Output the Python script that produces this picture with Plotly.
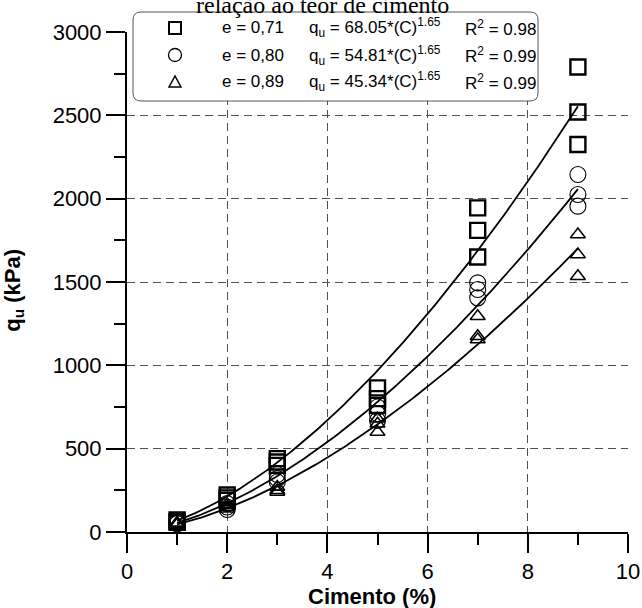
import numpy as np
import plotly.graph_objects as go

# ---------------- data ----------------
cement = [1, 2, 3, 5, 7, 9]  # Cimento (%)

qu_e071 = [[72, 62, 58], [222, 205, 190], [440, 420, 400],
           [865, 800, 760], [1945, 1810, 1650], [2790, 2520, 2325]]
qu_e080 = [[60, 55, 50], [170, 150, 135], [345, 320, 300],
           [750, 710, 670], [1495, 1455, 1405], [2145, 2025, 1955]]
qu_e089 = [[55, 50, 45], [165, 150, 140], [270, 250, 240],
           [680, 650, 600], [1295, 1175, 1155], [1785, 1665, 1535]]

void_ratio = ["0,71", "0,80", "0,89"]
fit_coef = [68.05, 54.81, 45.34]
fit_exp = 1.65
fit_r2 = ["0.98", "0.99", "0.99"]
fit_range = [1, 9]

x_ticks = [0, 2, 4, 6, 8, 10]
y_ticks = [0, 500, 1000, 1500, 2000, 2500, 3000]

# ---------------- figure ----------------
FONT = "Liberation Sans, Arial, sans-serif"
fig = go.Figure()

series = [qu_e071, qu_e080, qu_e089]
symbols = ["square-open", "circle-open", "triangle-up-open"]
msizes = [15, 16, 13]
mlw = [2.4, 1.1, 1.5]

for q, sym, ms, lw in zip(series, symbols, msizes, mlw):
    xs = [c for c, vals in zip(cement, q) for _ in vals]
    ys = [v for vals in q for v in vals]
    fig.add_trace(go.Scatter(
        x=xs, y=ys, mode="markers",
        marker=dict(symbol=sym, size=ms, color="black", line=dict(color="black", width=lw)),
        showlegend=False, cliponaxis=False))

cc = np.linspace(fit_range[0], fit_range[1], 200)
for a in fit_coef:
    fig.add_trace(go.Scatter(x=cc, y=a * cc ** fit_exp, mode="lines",
                             line=dict(color="black", width=1.8), showlegend=False))

fig.update_layout(
    width=642, height=608,
    margin=dict(l=127, r=14, t=32, b=76, autoexpand=False),
    plot_bgcolor="white", paper_bgcolor="white",
    font=dict(family=FONT, color="black"),
    showlegend=False,
)

common = dict(showline=True, linecolor="black", linewidth=2,
              ticks="outside", tickwidth=2, ticklen=19, tickcolor="black",
              tickfont=dict(family=FONT, size=22, color="black"),
              showgrid=True, gridcolor="#505050", gridwidth=1, griddash="8px,5px",
              zeroline=False, mirror=False, automargin=False)

fig.update_xaxes(range=[0, 10], tickvals=x_ticks, **common,
                 minor=dict(dtick=1, ticklen=11, tickwidth=2, tickcolor="black", showgrid=False, ticks="outside"))
fig.update_yaxes(range=[0, 3000], tickvals=y_ticks, **common,
                 minor=dict(dtick=250, ticklen=11, tickwidth=2, tickcolor="black", showgrid=False, ticks="outside"))

# ---------------- legend box (rounded) ----------------
x0, x1, y0, y1 = 0.012, 0.8204, 0.862, 1.04
r = 0.016
path = (f"M {x0+r},{y1} L {x1-r},{y1} Q {x1},{y1} {x1},{y1-r} L {x1},{y0+r} "
        f"Q {x1},{y0} {x1-r},{y0} L {x0+r},{y0} Q {x0},{y0} {x0},{y0+r} "
        f"L {x0},{y1-r} Q {x0},{y1} {x0+r},{y1} Z")
shapes = [dict(type="path", xref="paper", yref="paper", path=path,
               fillcolor="white", line=dict(color="#555555", width=1), layer="above")]

row_y = [1.008, 0.954, 0.900]
mx = 0.0958
shapes.append(dict(type="rect", xref="paper", yref="paper", xsizemode="pixel", ysizemode="pixel",
                   xanchor=mx, yanchor=row_y[0], x0=-6, x1=6, y0=-6, y1=6,
                   line=dict(color="black", width=2), layer="above"))
shapes.append(dict(type="circle", xref="paper", yref="paper", xsizemode="pixel", ysizemode="pixel",
                   xanchor=mx, yanchor=row_y[1], x0=-6.5, x1=6.5, y0=-6.5, y1=6.5,
                   line=dict(color="black", width=1.3), layer="above"))
shapes.append(dict(type="path", xref="paper", yref="paper", xsizemode="pixel", ysizemode="pixel",
                   xanchor=mx, yanchor=row_y[2], path="M -6,-5 L 6,-5 L 0,6 Z",
                   line=dict(color="black", width=1.5), layer="above"))
fig.update_layout(shapes=shapes)

ann = []
for i in range(3):
    ann.append(dict(xref="paper", yref="paper", x=0.1856, y=row_y[i], xanchor="left", yanchor="middle",
                    text=f"e = {void_ratio[i]}", showarrow=False, font=dict(size=17, family=FONT)))
    ann.append(dict(xref="paper", yref="paper", x=0.359, y=row_y[i], xanchor="left", yanchor="middle",
                    text=f"q<sub>u</sub> = {fit_coef[i]:.2f}*(C)<sup>{fit_exp}</sup>", showarrow=False,
                    font=dict(size=17, family=FONT)))
    ann.append(dict(xref="paper", yref="paper", x=0.6707, y=row_y[i], xanchor="left", yanchor="middle",
                    text=f"R<sup>2</sup> = {fit_r2[i]}", showarrow=False, font=dict(size=17, family=FONT)))

# title (partially cut off at top)
ann.append(dict(xref="paper", yref="paper", x=0.391, y=1.054, xanchor="center", yanchor="middle",
                text="relação ao teor de cimento", showarrow=False,
                font=dict(size=24, family="Liberation Serif, Times New Roman, serif")))
# axis titles
ann.append(dict(xref="paper", yref="paper", x=0.49, y=-0.128, xanchor="center", yanchor="middle",
                text="<b>Cimento (%)</b>", showarrow=False, font=dict(size=22, family=FONT)))
ann.append(dict(xref="paper", yref="paper", x=-0.226, y=0.484, xanchor="center", yanchor="middle",
                text="<b>q<sub>u</sub> (kPa)</b>", showarrow=False, textangle=-90,
                font=dict(size=22, family=FONT)))
fig.update_layout(annotations=ann)

fig.write_html("out.html")
